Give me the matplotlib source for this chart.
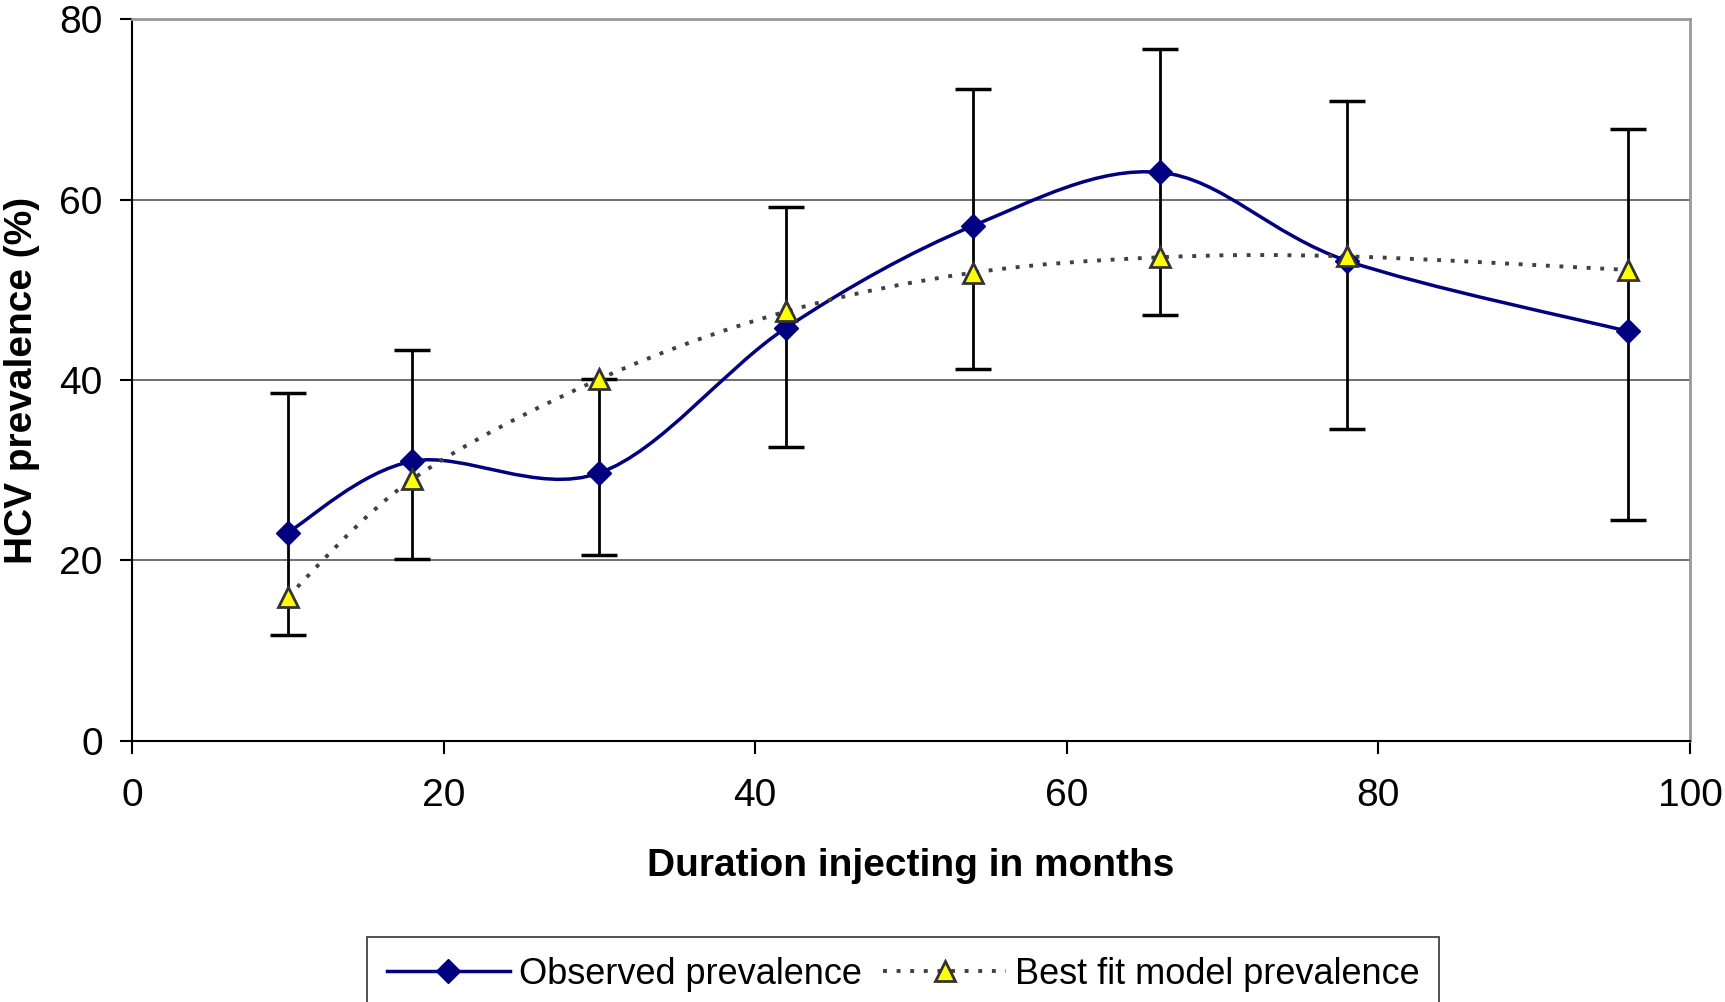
import matplotlib
matplotlib.use("Agg")
import matplotlib.pyplot as plt
from matplotlib.path import Path
from matplotlib.patches import PathPatch
from matplotlib.lines import Line2D

# 데이터
months = [10, 18, 30, 42, 54, 66, 78, 96]
observed = [23.1, 31.0, 29.7, 45.8, 57.1, 63.0, 53.2, 45.4]
ci_upper = [38.6, 43.3, 40.1, 59.2, 72.2, 76.7, 70.9, 67.8]
ci_lower = [11.7, 20.2, 20.6, 32.6, 41.2, 47.2, 34.6, 24.5]
model = [16.0, 29.0, 40.1, 47.6, 51.9, 53.6, 53.7, 52.2]

plt.rcParams['font.family'] = ['Liberation Sans', 'DejaVu Sans']


# 엑셀식 부드러운 선 (베지어 곡선 경로)
def smooth_path(xs, ys):
    pts = list(zip(xs, ys))
    verts = [pts[0]]
    codes = [Path.MOVETO]
    for i in range(len(pts) - 1):
        p0 = pts[i - 1] if i > 0 else pts[i]
        p1 = pts[i]
        p2 = pts[i + 1]
        p3 = pts[i + 2] if i + 2 < len(pts) else p2
        c1 = (p1[0] + (p2[0] - p0[0]) / 6, p1[1] + (p2[1] - p0[1]) / 6)
        c2 = (p2[0] - (p3[0] - p1[0]) / 6, p2[1] - (p3[1] - p1[1]) / 6)
        verts += [c1, c2, p2]
        codes += [Path.CURVE4] * 3
    return Path(verts, codes)


fig = plt.figure(figsize=(17.25, 10.02), dpi=100)
ax = fig.add_axes([0.0765, 0.2605, 0.9032, 0.7205])

ax.set_xlim(0, 100)
ax.set_ylim(0, 80)
ax.set_xticks([0, 20, 40, 60, 80, 100])
ax.set_yticks([0, 20, 40, 60, 80])

for y in [20, 40, 60]:
    ax.axhline(y, color='#555555', lw=1.2, zorder=0)

ax.spines['top'].set_color('#999999')
ax.spines['right'].set_color('#999999')
ax.spines['top'].set_linewidth(2)
ax.spines['right'].set_linewidth(2)
ax.spines['left'].set_linewidth(1.5)
ax.spines['bottom'].set_linewidth(1.5)

ax.tick_params(axis='both', direction='out', length=9, width=1.5, labelsize=28)
ax.tick_params(axis='y', pad=12)
ax.tick_params(axis='x', pad=18)

dots = (0, (1, 2.5))

# 관찰값 선
ax.add_patch(PathPatch(smooth_path(months, observed), fill=False,
                       edgecolor='#000080', lw=2.5, zorder=3))

# 신뢰구간
yerr = [[o - l for o, l in zip(observed, ci_lower)],
        [u - o for o, u in zip(observed, ci_upper)]]
ax.errorbar(months, observed, yerr=yerr, fmt='none', ecolor='black',
            elinewidth=2, capsize=13, capthick=2.5, zorder=4)

# 모델 선
ax.add_patch(PathPatch(smooth_path(months, model), fill=False,
                       edgecolor='#404040', lw=2.8, linestyle=dots, zorder=3))

ax.plot(months, observed, linestyle='none', marker='D', markersize=12,
        color='#000080', zorder=5)
ax.plot(months, model, linestyle='none', marker='^', markersize=14,
        markerfacecolor='#FFFF00', markeredgecolor='#333333', markeredgewidth=2, zorder=6)

ax.set_xlabel('Duration injecting in months', fontsize=28, fontweight='bold', labelpad=24)
ax.set_ylabel('HCV prevalence (%)', fontsize=28, fontweight='bold', labelpad=14)

h1 = Line2D([], [], color='#000080', lw=2.5, marker='D', markersize=12)
h2 = Line2D([], [], color='#404040', lw=2.8, linestyle=dots, marker='^',
            markersize=14, markerfacecolor='#FFFF00', markeredgecolor='#333333',
            markeredgewidth=2)
leg = fig.legend([h1, h2], ['Observed prevalence', 'Best fit model prevalence'],
                 loc='upper left', bbox_to_anchor=(367 / 1725, 1 - 937 / 1002),
                 ncol=2, fontsize=26, frameon=True, fancybox=False,
                 handlelength=3.4, handletextpad=0.25, columnspacing=0.6,
                 borderpad=0.55, borderaxespad=0)
leg.get_frame().set_edgecolor('black')
leg.get_frame().set_linewidth(1.2)

fig.savefig('out.png', dpi=100)
